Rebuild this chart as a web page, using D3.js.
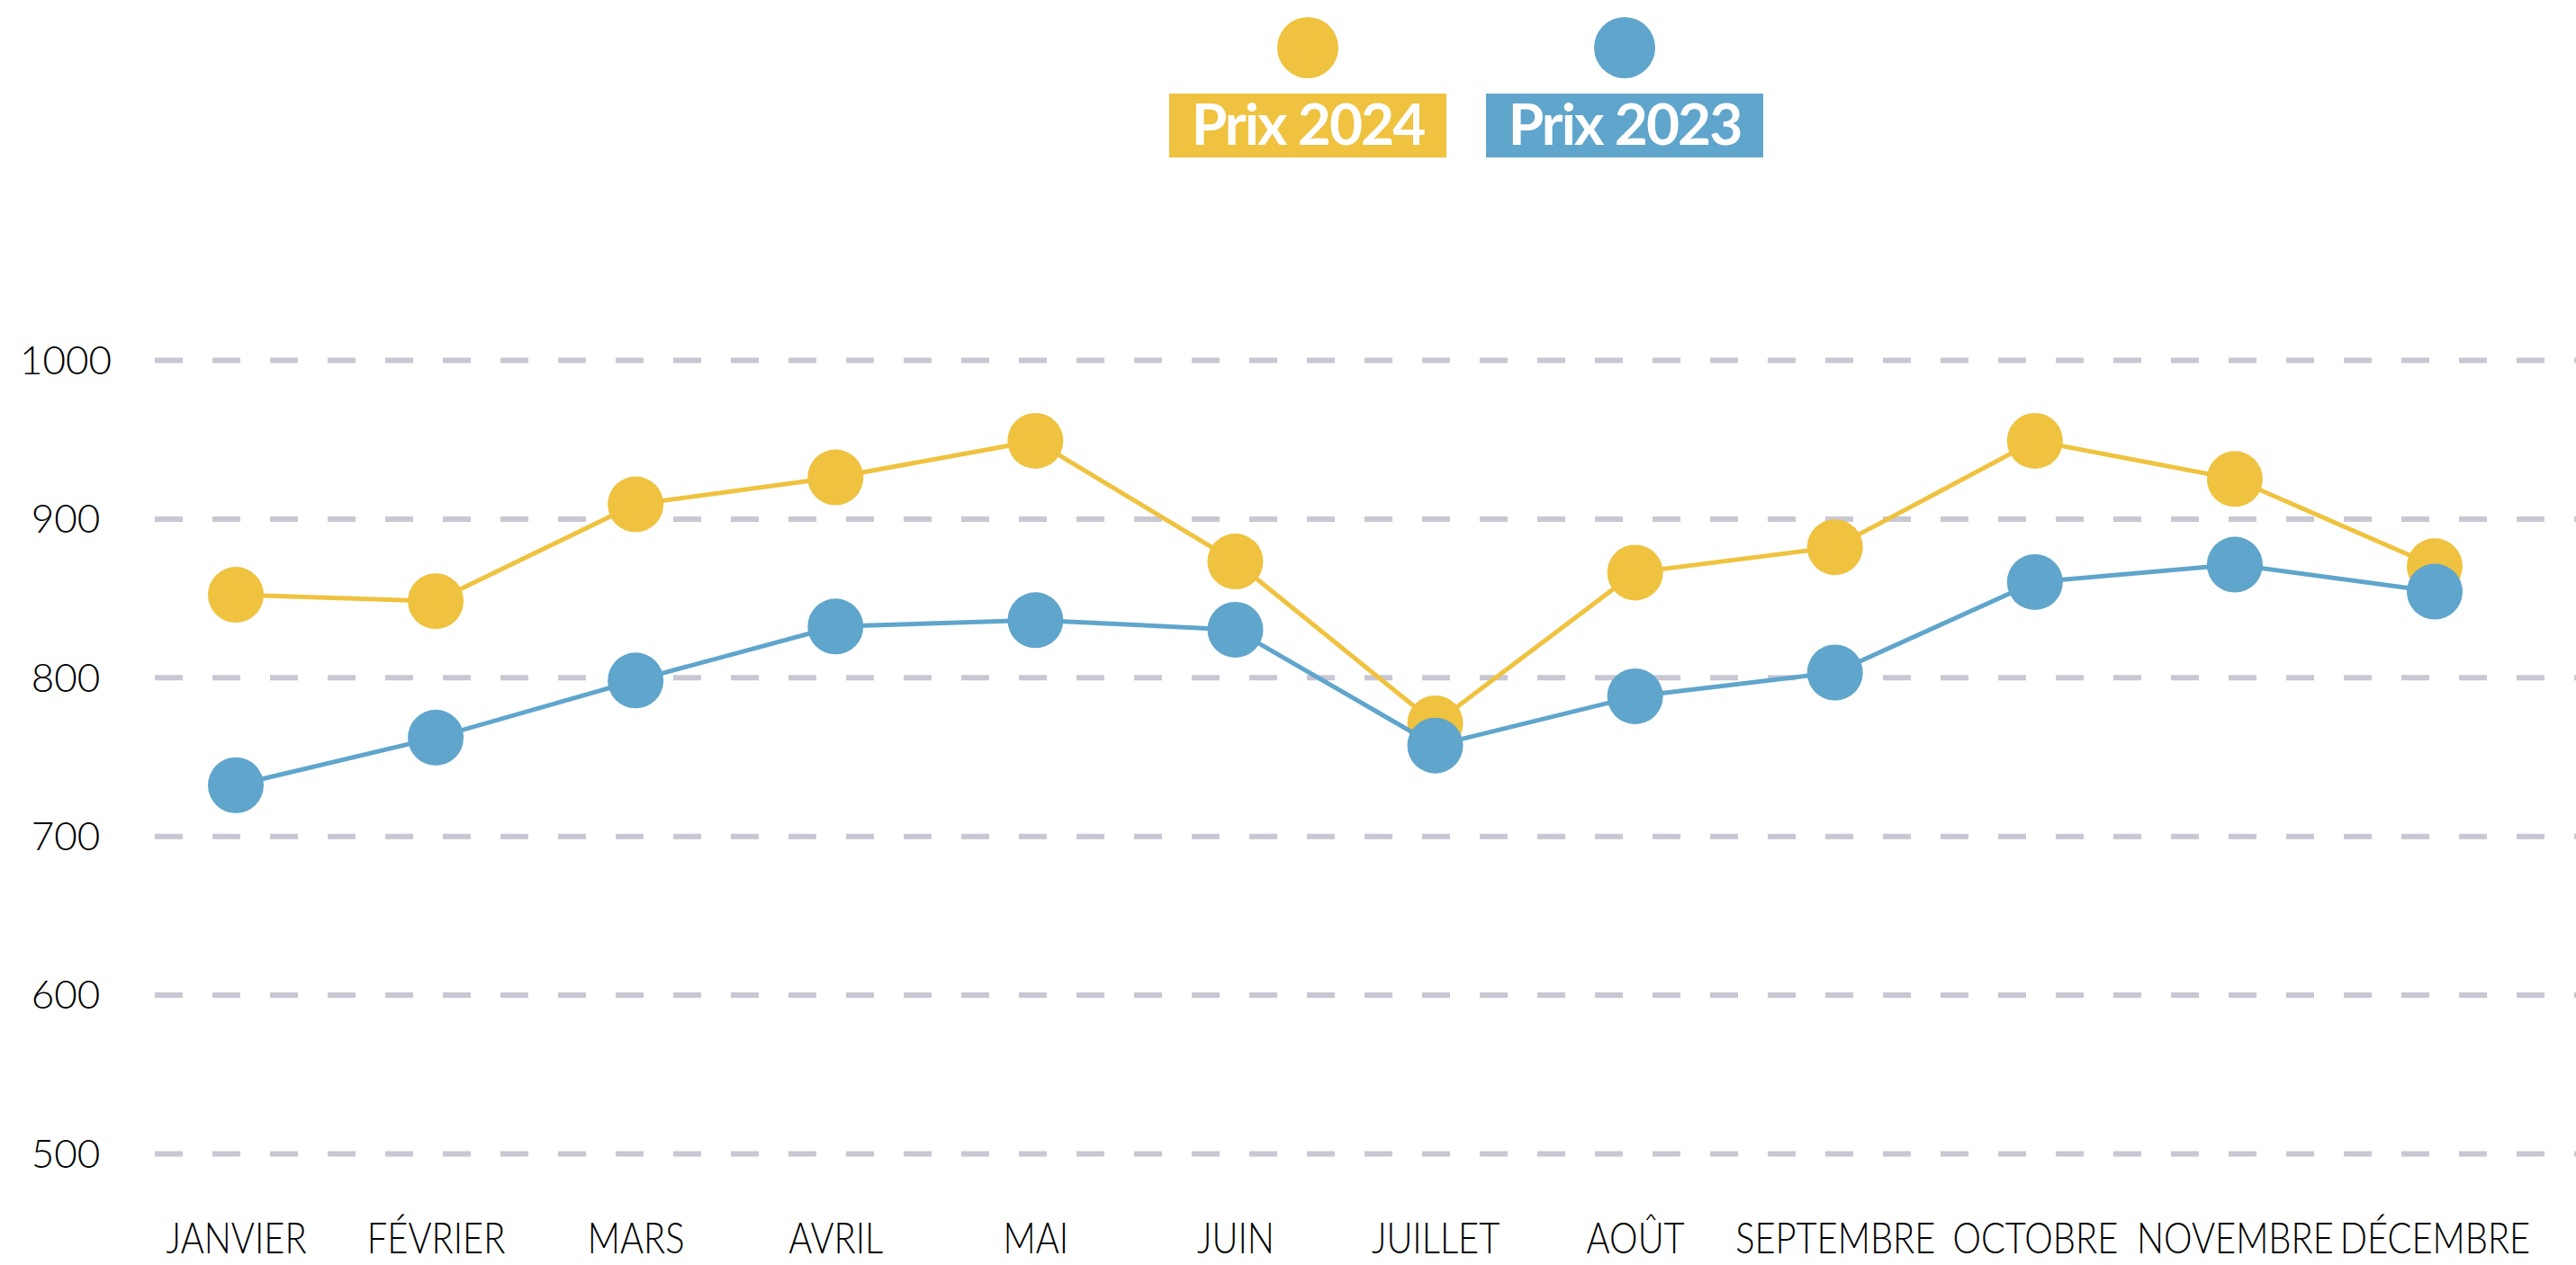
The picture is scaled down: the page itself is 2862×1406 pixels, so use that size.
<!DOCTYPE html>
<html>
<head>
<meta charset="utf-8">
<script src="https://cdn.jsdelivr.net/npm/d3@7"></script>
<style>
	html, body { margin: 0; padding: 0; background: #fff; }
	svg { display: block; }
</style>
</head>
<body>
<svg id="graphic" width="2862" height="1406"></svg>
<script>
var months = ["JANVIER", "FÉVRIER", "MARS", "AVRIL", "MAI", "JUIN", "JUILLET", "AOÛT", "SEPTEMBRE", "OCTOBRE", "NOVEMBRE", "DÉCEMBRE"];
var prix2024 = [852, 848, 909, 926, 949, 873, 771, 866, 882, 949, 925, 870];
var prix2023 = [732, 762, 798, 832, 836, 830, 757, 788, 803, 860, 871, 854];
var yTicks = [500, 600, 700, 800, 900, 1000];
var seriesNames = ["Prix 2024", "Prix 2023"];

var YELLOW = "#efc23f";
var BLUE = "#5fa5cc";
var GRID = "#c8c7d3";
var DOT_R = 31;


function drawSeries(g, x, y, values, colour) {
	var line = d3.line()
		.x(function(d, i) { return x(months[i]); })
		.y(function(d) { return y(d); });

	g.append("path")
		.datum(values)
		.attr("fill", "none")
		.attr("stroke", colour)
		.attr("stroke-width", 5)
		.attr("d", line);

	g.selectAll(null)
		.data(values)
		.enter().append("circle")
			.attr("cx", function(d, i) { return x(months[i]); })
			.attr("cy", function(d) { return y(d); })
			.attr("r", DOT_R)
			.attr("fill", colour);
}


function generateGraphic() {
	var svg = d3.select("svg"),
		width = +svg.attr("width");

	var x = d3.scalePoint()
		.domain(months)
		.range([262, 2705]);

	var y = d3.scaleLinear()
		.domain([500, 1000])
		.range([1282, 400]);

	// dashed gridlines, no axis line
	var grid = svg.append("g")
		.attr("transform", "translate(172,0)")
		.call(d3.axisLeft(y).tickValues(yTicks).tickSize(-(width - 172)).tickFormat(""));

	grid.select(".domain").remove();
	grid.selectAll(".tick line")
		.attr("stroke", GRID)
		.attr("stroke-width", 6)
		.attr("stroke-dasharray", "31,33");

	// y labels, centred in the left margin
	svg.append("g")
		.selectAll("text")
		.data(yTicks)
		.enter().append("text")
			.attr("x", 73)
			.attr("y", function(d) { return y(d); })
			.attr("dy", "0.36em")
			.attr("text-anchor", "middle")
			.attr("font-family", "Lato, sans-serif")
			.attr("font-weight", 300)
			.attr("font-size", 44)
			.attr("fill", "#000")
			.text(function(d) { return d; });

	// month labels; no narrow face installed so squeeze horizontally
	var xaxis = svg.append("g")
		.attr("transform", "translate(0,1393)")
		.call(d3.axisBottom(x).tickSize(0).tickPadding(0));

	xaxis.select(".domain").remove();
	xaxis.selectAll("text")
		.attr("dy", 0)
		.attr("transform", "scale(0.83,1)")
		.attr("font-family", "Lato, sans-serif")
		.attr("font-weight", 300)
		.attr("font-size", 48)
		.attr("fill", "#000");

	var plot = svg.append("g");
	drawSeries(plot, x, y, prix2024, YELLOW);
	drawSeries(plot, x, y, prix2023, BLUE);

	// legend
	var lx = d3.scalePoint()
		.domain(seriesNames)
		.range([1453, 1805]);
	var lcol = d3.scaleOrdinal()
		.domain(seriesNames)
		.range([YELLOW, BLUE]);

	var leg = svg.append("g")
		.selectAll("g")
		.data(seriesNames)
		.enter().append("g")
			.attr("transform", function(d) { return "translate(" + lx(d) + ",0)"; });

	leg.append("circle")
		.attr("cy", 53)
		.attr("r", 34)
		.attr("fill", function(d) { return lcol(d); });

	leg.append("rect")
		.attr("x", -154)
		.attr("y", 104)
		.attr("width", 308)
		.attr("height", 71)
		.attr("fill", function(d) { return lcol(d); });

	leg.append("text")
		.attr("y", 161)
		.attr("text-anchor", "middle")
		.attr("font-family", "Lato, sans-serif")
		.attr("font-weight", "bold")
		.attr("font-size", 64)
		.attr("letter-spacing", -2)
		.attr("fill", "#fff")
		.text(function(d) { return d; });
}

generateGraphic();
</script>
</body>
</html>
